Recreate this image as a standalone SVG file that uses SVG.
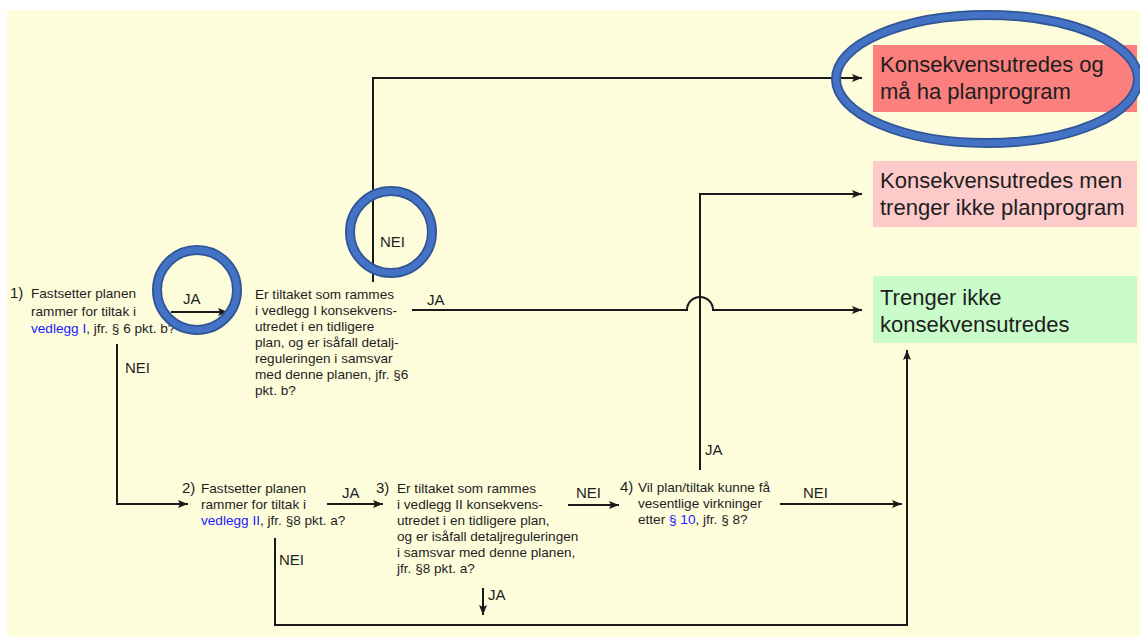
<svg xmlns="http://www.w3.org/2000/svg" width="1140" height="637" viewBox="0 0 1140 637">
<defs>
<marker id="ah" viewBox="0 0 10 10" refX="10" refY="5" markerWidth="10" markerHeight="10" markerUnits="userSpaceOnUse" orient="auto">
<path d="M0,1 L10,5 L0,9 L2,5 Z" fill="#1a1a1a"/>
</marker>
<style>
.bg{fill:#ffffff}
.pane{fill:#fdfddc}
.ln{fill:none;stroke:#1a1a1a;stroke-width:2}
.t{font-family:"Liberation Sans",Arial,sans-serif;font-size:13.6px;fill:#1e1e1e}
.num{font-family:"Liberation Sans",Arial,sans-serif;font-size:15px;fill:#1e1e1e}
.lbl{font-family:"Liberation Sans",Arial,sans-serif;font-size:15px;fill:#1e1e1e}
.big{font-family:"Liberation Sans",Arial,sans-serif;font-size:22px;fill:#1e1e1e}
.lnk{fill:#1a1aff}
.ring{fill:none;stroke:#2f5597;stroke-width:10}
.ringin{fill:none;stroke:#4472c4;stroke-width:6.5}
</style>
</defs>
<rect class="bg" x="0" y="0" width="1140" height="637"/>
<rect class="pane" x="7" y="10" width="1133" height="627"/>

<g id="out1">
<rect x="873" y="45" width="264" height="67" fill="#fb7f7c"/>
<text class="big" x="880" y="72">Konsekvensutredes og</text>
<text class="big" x="880" y="99">må ha planprogram</text>
</g>
<g id="out2">
<rect x="873" y="161" width="264" height="66" fill="#fdcaca"/>
<text class="big" x="880" y="188">Konsekvensutredes men</text>
<text class="big" x="880" y="215">trenger ikke planprogram</text>
</g>
<g id="out3">
<rect x="873" y="276" width="264" height="67" fill="#c9fcc9"/>
<text class="big" x="880" y="305">Trenger ikke</text>
<text class="big" x="880" y="332">konsekvensutredes</text>
</g>

<g id="q1">
<text class="num" x="10" y="298">1)</text>
<text class="t" x="31" y="298">Fastsetter planen</text>
<text class="t" x="31" y="316">rammer for tiltak i</text>
<text class="t" x="31" y="333"><tspan class="lnk">vedlegg I</tspan>, jfr. § 6 pkt. b?</text>
</g>
<g id="q1b">
<text class="t" x="255" y="299">Er tiltaket som rammes</text>
<text class="t" x="255" y="315">i vedlegg I konsekvens-</text>
<text class="t" x="255" y="331">utredet i en tidligere</text>
<text class="t" x="255" y="347">plan, og er isåfall detalj-</text>
<text class="t" x="255" y="363">reguleringen i samsvar</text>
<text class="t" x="255" y="379">med denne planen, jfr. §6</text>
<text class="t" x="255" y="395">pkt. b?</text>
</g>
<g id="q2">
<text class="num" x="182" y="493">2)</text>
<text class="t" x="201" y="493">Fastsetter planen</text>
<text class="t" x="201" y="509">rammer for tiltak i</text>
<text class="t" x="201" y="525"><tspan class="lnk">vedlegg II</tspan>, jfr. §8 pkt. a?</text>
</g>
<g id="q3">
<text class="num" x="376" y="493">3)</text>
<text class="t" x="397" y="493">Er tiltaket som rammes</text>
<text class="t" x="397" y="509">i vedlegg II konsekvens-</text>
<text class="t" x="397" y="525">utredet i en tidligere plan,</text>
<text class="t" x="397" y="541">og er isåfall detaljreguleringen</text>
<text class="t" x="397" y="557">i samsvar med denne planen,</text>
<text class="t" x="397" y="573">jfr. §8 pkt. a?</text>
</g>
<g id="q4">
<text class="num" x="620" y="492">4)</text>
<text class="t" x="638" y="492">Vil plan/tiltak kunne få</text>
<text class="t" x="638" y="508">vesentlige virkninger</text>
<text class="t" x="638" y="524">etter <tspan class="lnk">§ 10</tspan>, jfr. § 8?</text>
</g>

<g id="connectors">
<path class="ln" d="M171,312 H228" marker-end="url(#ah)"/>
<path class="ln" d="M117,344 V504 H188" marker-end="url(#ah)"/>
<path class="ln" d="M373,282 V78 H862" marker-end="url(#ah)"/>
<path class="ln" d="M412,310 H687 A13,13 0 0 1 713,310 H862" marker-end="url(#ah)"/>
<path class="ln" d="M700,470 V194 H862" marker-end="url(#ah)"/>
<path class="ln" d="M327,504 H383" marker-end="url(#ah)"/>
<path class="ln" d="M275,538 V625 H907 V350" marker-end="url(#ah)"/>
<path class="ln" d="M483,588 V615" marker-end="url(#ah)"/>
<path class="ln" d="M568,505 H619" marker-end="url(#ah)"/>
<path class="ln" d="M780,504 H902" marker-end="url(#ah)"/>
<text class="lbl" x="183" y="304">JA</text>
<text class="lbl" x="125" y="373">NEI</text>
<text class="lbl" x="380" y="247">NEI</text>
<text class="lbl" x="427" y="305">JA</text>
<text class="lbl" x="342" y="498">JA</text>
<text class="lbl" x="279" y="565">NEI</text>
<text class="lbl" x="488" y="600">JA</text>
<text class="lbl" x="576" y="498">NEI</text>
<text class="lbl" x="803" y="498">NEI</text>
<text class="lbl" x="705" y="455">JA</text>
</g>

<g id="highlights">
<ellipse class="ring" cx="987" cy="79" rx="151" ry="64"/>
<ellipse class="ringin" cx="987" cy="79" rx="151" ry="64"/>
<circle class="ring" cx="197" cy="290" r="40"/>
<circle class="ringin" cx="197" cy="290" r="40"/>
<circle class="ring" cx="391" cy="232" r="41"/>
<circle class="ringin" cx="391" cy="232" r="41"/>
</g>
</svg>
